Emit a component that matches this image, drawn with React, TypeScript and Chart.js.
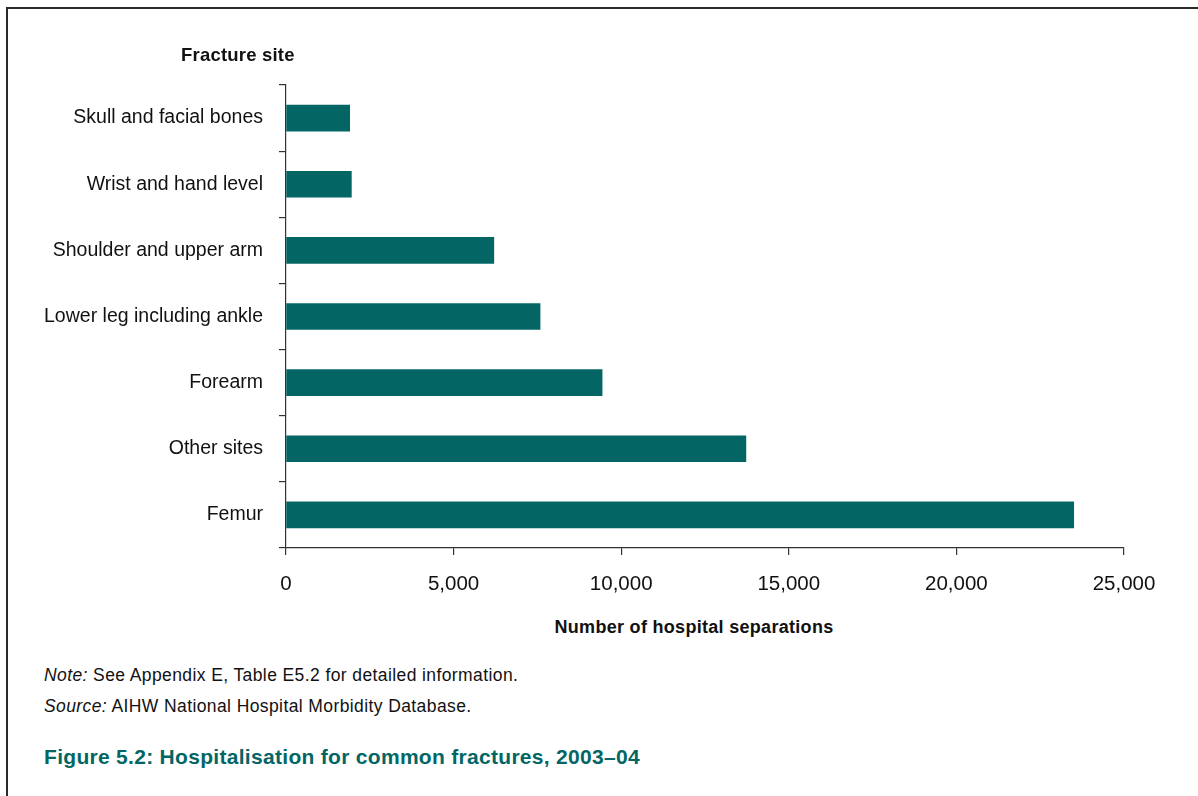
import React, { useEffect, useRef } from "react";
import { Chart, registerables } from "chart.js";

Chart.register(...registerables);

const categories = [
  "Skull and facial bones",
  "Wrist and hand level",
  "Shoulder and upper arm",
  "Lower leg including ankle",
  "Forearm",
  "Other sites",
  "Femur",
];
const separations = [1900, 1950, 6200, 7580, 9430, 13720, 23500];
const xTickValues = [0, 5000, 10000, 15000, 20000, 25000];

const BAR_COLOR = "#036664";
const TEXT = "#111";
const FONT = "'Liberation Sans', Arial, sans-serif";

export default function App() {
  const ref = useRef<HTMLCanvasElement | null>(null);

  useEffect(() => {
    if (!ref.current) return;
    const chart = new Chart(ref.current, {
      type: "bar",
      data: {
        labels: categories,
        datasets: [
          {
            data: separations,
            backgroundColor: BAR_COLOR,
            borderWidth: 0,
            barThickness: 26,
          },
        ],
      },
      options: {
        indexAxis: "y",
        animation: false,
        responsive: false,
        maintainAspectRatio: false,
        layout: { padding: { top: 85, right: 74, left: 0, bottom: 0 } },
        plugins: {
          legend: { display: false },
          tooltip: { enabled: false },
          title: { display: false },
        },
        scales: {
          x: {
            type: "linear",
            min: 0,
            max: 25000,
            afterBuildTicks: (scale: any) => {
              scale.ticks = xTickValues.map((v) => ({ value: v }));
            },
            afterFit: (scale: any) => {
              scale.height = 60;
            },
            ticks: {
              color: TEXT,
              font: { family: FONT, size: 20.5 },
              padding: 17,
              maxRotation: 0,
              callback: (v: any) => Number(v).toLocaleString("en-US"),
            },
            grid: {
              display: true,
              drawOnChartArea: false,
              drawTicks: true,
              tickLength: 7,
              color: "#333",
              lineWidth: 1.2,
            },
            border: { display: true, color: "#333", width: 1.2 },
          },
          y: {
            type: "category",
            offset: true,
            afterFit: (scale: any) => {
              scale.width = 286;
            },
            ticks: {
              color: TEXT,
              font: { family: FONT, size: 19.5 },
              padding: 16,
            },
            grid: {
              display: true,
              offset: true,
              drawOnChartArea: false,
              drawTicks: true,
              tickLength: 7,
              color: "#333",
              lineWidth: 1.2,
            },
            border: { display: true, color: "#333", width: 1.2 },
          },
        },
      },
    });
    return () => chart.destroy();
  }, []);

  return (
    <div
      style={{
        position: "fixed",
        left: 0,
        top: 0,
        width: 1198,
        height: 796,
        background: "#fff",
        overflow: "hidden",
        fontFamily: FONT,
      }}
    >
      <div
        style={{
          position: "absolute",
          left: 6,
          top: 7,
          width: 1400,
          height: 1000,
          borderTop: "2px solid #2a2a2a",
          borderLeft: "2px solid #2a2a2a",
        }}
      />
      <canvas
        ref={ref}
        width={1198}
        height={608}
        style={{ position: "absolute", left: 0, top: 0, width: 1198, height: 608 }}
      />
      <div
        style={{
          position: "absolute",
          left: 181,
          top: 45,
          lineHeight: "20px",
          fontSize: 18.5,
          letterSpacing: "0.2px",
          fontWeight: "bold",
          color: TEXT,
          whiteSpace: "nowrap",
        }}
      >
        Fracture site
      </div>
      <div
        style={{
          position: "absolute",
          left: 694,
          top: 617,
          transform: "translateX(-50%)",
          lineHeight: "20px",
          fontSize: 18,
          letterSpacing: "0.3px",
          fontWeight: "bold",
          color: TEXT,
          whiteSpace: "nowrap",
        }}
      >
        Number of hospital separations
      </div>
      <div
        style={{
          position: "absolute",
          left: 44,
          top: 665,
          lineHeight: "20px",
          fontSize: 17.5,
          letterSpacing: "0.4px",
          color: TEXT,
          whiteSpace: "nowrap",
        }}
      >
        <i>Note:</i> See Appendix E, Table E5.2 for detailed information.
      </div>
      <div
        style={{
          position: "absolute",
          left: 44,
          top: 696,
          lineHeight: "20px",
          fontSize: 17.5,
          letterSpacing: "0.4px",
          color: TEXT,
          whiteSpace: "nowrap",
        }}
      >
        <i>Source:</i> AIHW National Hospital Morbidity Database.
      </div>
      <div
        style={{
          position: "absolute",
          left: 44,
          top: 745,
          lineHeight: "24px",
          fontSize: 21,
          letterSpacing: "0.3px",
          fontWeight: "bold",
          color: BAR_COLOR,
          whiteSpace: "nowrap",
        }}
      >
        Figure 5.2: Hospitalisation for common fractures, 2003–04
      </div>
    </div>
  );
}
